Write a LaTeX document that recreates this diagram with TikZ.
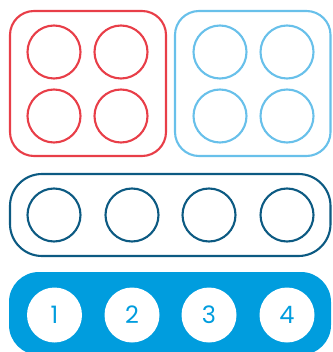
\documentclass[tikz,border=0pt]{standalone}
\usepackage{fontspec}
\newfontfamily\numfont{Poppins}
\definecolor{PadRed}{RGB}{232,62,72}
\definecolor{PadSky}{RGB}{104,192,234}
\definecolor{PadNavy}{RGB}{12,90,130}
\definecolor{PadBlue}{RGB}{0,157,222}
\begin{document}
\begin{tikzpicture}[x=1pt,y=-1pt,
  hole/.style={circle,draw,line width=2.1pt,minimum size=53pt,inner sep=0pt},
  keycap/.style={circle,fill=white,minimum size=55pt,inner sep=0pt,
    text=PadBlue,font=\numfont\fontsize{24}{24}\selectfont}]
  \useasboundingbox (0,0) rectangle (332,352);
  \clip (0,0) rectangle (332,352);
  % two square pads
  \draw[PadRed,line width=2.1pt,rounded corners=24pt] (10,11) rectangle (166,156);
  \draw[PadSky,line width=2.1pt,rounded corners=24pt] (175,11) rectangle (330.5,156);
  \foreach \i/\x/\y in {1/54/52,2/121/52,3/54/116,4/121/116}
    \node[hole,PadRed] (red\i) at (\x,\y) {};
  \foreach \i/\x/\y in {1/220/52,2/287/52,3/220/116,4/287/116}
    \node[hole,PadSky] (sky\i) at (\x,\y) {};
  % row of four
  \draw[PadNavy,line width=2.1pt,rounded corners=32pt] (10,174) rectangle (330.5,256);
  \foreach \i/\x in {1/54,2/132,3/209,4/287}
    \node[hole,PadNavy] (navy\i) at (\x,215) {};
  % numbered row
  \fill[PadBlue,rounded corners=30pt] (9,272) rectangle (331,355);
  \foreach \i/\x in {1/54.5,2/132,3/209,4/287}
    \node[keycap] (key\i) at (\x,315) {\i};
\end{tikzpicture}
\end{document}
